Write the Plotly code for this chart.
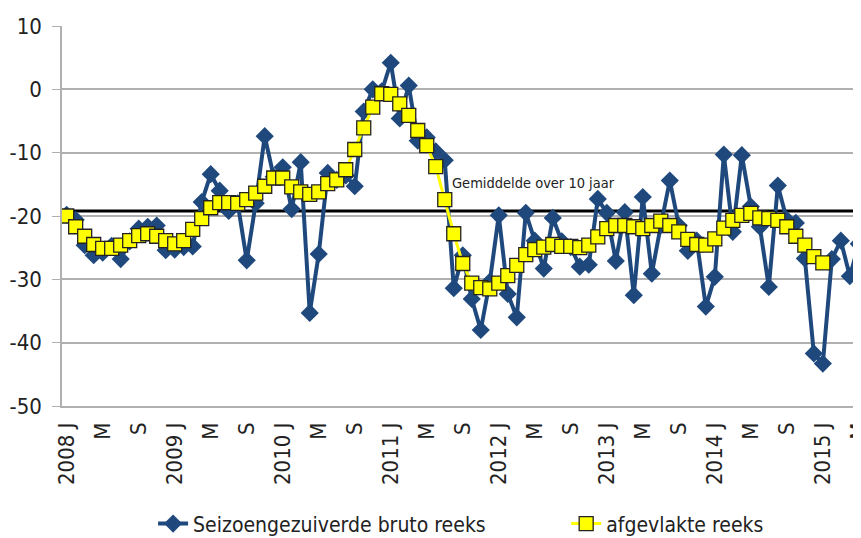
import plotly.graph_objects as go

# maandelijkse reeks jan 2008 - mei 2015
bruto_reeks = [
    -19.8, -20.6, -24.6, -26.2, -25.8, -24.7, -26.8, -24.0, -22.0, -21.7, -21.5, -25.4,
    -25.3, -24.9, -24.8, -17.8, -13.4, -16.0, -19.2, -18.0, -27.0, -18.0, -7.4, -13.8,
    -12.3, -18.9, -11.5, -35.3, -26.0, -13.2, -14.3, -13.6, -15.3, -3.5, 0.0, -0.3,
    4.2, -4.6, 0.6, -8.1, -7.6, -9.8, -11.2, -31.4, -26.2, -33.1, -38.0, -30.4,
    -19.9, -32.3, -36.0, -19.5, -23.9, -28.3, -20.3, -24.0, -24.9, -28.0, -27.7, -17.3,
    -19.5, -27.1, -19.4, -32.5, -17.0, -29.1, -21.5, -14.4, -21.5, -25.5, -23.9, -34.3,
    -29.6, -10.3, -22.5, -10.4, -18.5, -21.7, -31.2, -15.2, -20.6, -21.1, -26.7, -41.7,
    -43.3, -26.8, -23.9, -29.5, -24.4,
]

afgevlakte_reeks = [
    -20.0, -21.7, -23.2, -24.5, -25.1, -25.1, -24.6, -23.9, -23.1, -22.8, -23.2, -23.9,
    -24.4, -23.9, -22.1, -20.4, -18.7, -17.9, -17.9, -18.0, -17.4, -16.4, -15.3, -14.0,
    -14.0, -15.4, -16.2, -16.6, -16.2, -14.9, -14.3, -12.7, -9.5, -6.1, -2.8, -0.7,
    -0.8, -2.3, -4.1, -6.5, -8.9, -12.2, -17.4, -22.8, -27.5, -30.6, -31.3, -31.5,
    -30.6, -29.4, -27.8, -26.1, -25.3, -24.9, -24.5, -24.8, -24.8, -25.0, -24.6, -23.3,
    -22.0, -21.5, -21.5, -21.7, -22.0, -21.5, -20.8, -21.5, -22.5, -23.7, -24.5, -24.6,
    -23.6, -21.9, -20.7, -19.9, -19.6, -20.3, -20.4, -20.7, -21.7, -23.2, -24.6, -26.4,
    -27.4,
]

gemiddelde_10_jaar = -19.2

jaren = list(range(2008, 2016))
maand_letters = ["J", "M", "S"]  # jan, mei, sep
y_ticks = [10, 0, -10, -20, -30, -40, -50]

tick_pos = []
tick_text = []
for j, jaar in enumerate(jaren):
    for k, letter in enumerate(maand_letters):
        pos = j * 12 + k * 4
        if pos >= len(bruto_reeks):
            break
        tick_pos.append(pos)
        tick_text.append(f"{jaar} {letter}" if letter == "J" else letter)

FONT = "DejaVu Sans Condensed, Liberation Sans Narrow, sans-serif"
BLAUW = "#1F497D"
GEEL = "#FFFF00"

fig = go.Figure()
fig.add_trace(go.Scatter(
    x=list(range(len(bruto_reeks))), y=bruto_reeks,
    mode="lines+markers", name="Seizoengezuiverde bruto reeks",
    line=dict(color=BLAUW, width=4),
    marker=dict(symbol="diamond", size=14, color=BLAUW),
    legend="legend", showlegend=True,
))
fig.add_trace(go.Scatter(
    x=list(range(len(afgevlakte_reeks))), y=afgevlakte_reeks,
    mode="lines+markers", name="afgevlakte reeks",
    line=dict(color=GEEL, width=3),
    marker=dict(symbol="square", size=14, color=GEEL, line=dict(color="#222222", width=1.3)),
    legend="legend2", showlegend=True,
))
fig.add_hline(y=gemiddelde_10_jaar, line=dict(color="black", width=3), layer="below")
fig.add_annotation(
    x=42.6, y=-14.85, text="Gemiddelde over 10 jaar", showarrow=False,
    xanchor="left", yanchor="middle", font=dict(family=FONT, size=14.5, color="#222222"),
)

# pagina heeft 8px body-marge, daarom marges 8px kleiner
legend_style = dict(orientation="h", yref="container", y=0.041, xanchor="left",
                    yanchor="middle", font=dict(size=21), bgcolor="rgba(0,0,0,0)")
fig.update_layout(
    width=861, height=538, showlegend=True,
    margin=dict(l=54, r=8, t=18, b=140),
    plot_bgcolor="white", paper_bgcolor="white",
    font=dict(family=FONT, color="#222222"),
    legend=dict(x=0.114, **legend_style),
    legend2=dict(x=0.631, **legend_style),
)
fig.update_xaxes(
    range=[-0.52, 88.24], tickvals=tick_pos, ticktext=tick_text, tickangle=-90,
    showgrid=False, showline=True, linecolor="#b0b0b0", linewidth=1.5,
    ticks="", tickfont=dict(size=22), zeroline=False, ticklabelstandoff=6,
    ticklabeloverflow="allow", automargin=False,
)
fig.update_yaxes(
    range=[-50, 10], tickvals=y_ticks, ticktext=[str(v) for v in y_ticks],
    showgrid=True, gridcolor="#b0b0b0", gridwidth=1.5,
    showline=True, linecolor="#b0b0b0", linewidth=1.5, ticks="outside",
    tickcolor="#b0b0b0", ticklen=8, tickfont=dict(size=22), zeroline=False,
    ticklabelstandoff=6, automargin=False,
)

fig.write_html("out.html")
